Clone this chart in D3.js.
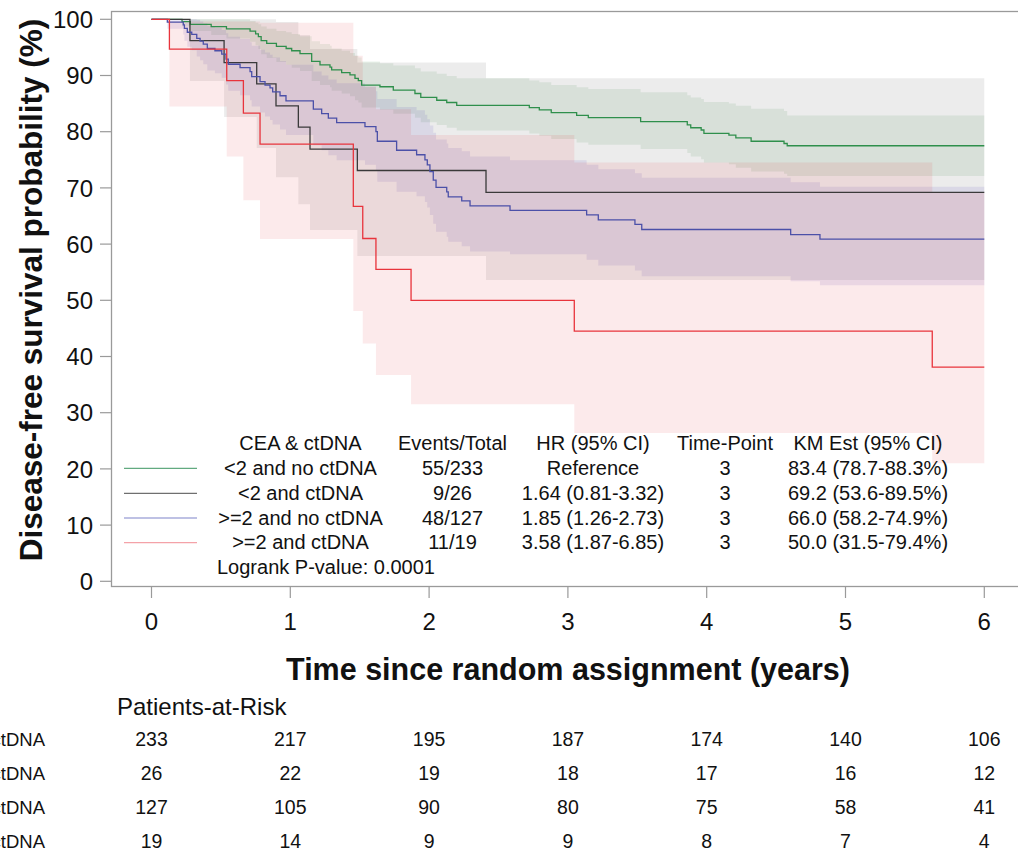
<!DOCTYPE html>
<html><head><meta charset="utf-8">
<script src="https://cdn.jsdelivr.net/npm/d3@7"></script>
<style>
html,body{margin:0;padding:0;background:#fff;overflow:hidden;}
svg{display:block;font-family:"Liberation Sans",Arial,Helvetica,sans-serif;}
</style></head>
<body>
<svg id="chart" width="1018" height="852"></svg>
<script>
// ---------- data ----------
const groups = ["<2 and no ctDNA", "<2 and ctDNA", ">=2 and no ctDNA", ">=2 and ctDNA"];
const xTicks = [0, 1, 2, 3, 4, 5, 6];
const yTicks = [0, 10, 20, 30, 40, 50, 60, 70, 80, 90, 100];
const maxTime = 6;

// <2 and no ctDNA : [time, KM %, lower %, upper %]
const greenSteps = [
  [0,100,100,100],[0.22,99.6,98.7,100],[0.28,99.1,97.9,100],[0.43,98.7,97.2,100],
  [0.54,98.3,96.6,100],[0.71,97.9,96.0,99.7],[0.75,97.4,95.4,99.4],[0.77,96.9,94.7,99.1],
  [0.79,96.2,93.8,98.7],[0.83,95.7,93.1,98.3],[0.90,95.2,92.4,97.9],[0.97,94.8,91.9,97.7],
  [1.01,94.4,91.4,97.4],[1.07,93.9,90.8,97.0],[1.154,92.5,89.0,96.1],[1.214,91.9,88.3,95.6],
  [1.286,91.5,87.9,95.3],[1.298,91.0,87.3,94.8],[1.37,90.5,86.8,94.4],[1.43,90.1,86.3,94.0],
  [1.466,89.5,85.6,93.5],[1.49,89.1,85.2,93.2],[1.514,88.3,84.3,92.5],[1.646,88.0,83.9,92.2],
  [1.742,87.4,83.2,91.8],[1.898,86.8,82.5,91.3],[1.94,86.1,81.7,90.7],[2.055,85.6,81.2,90.3],
  [2.127,85.2,80.7,89.9],[2.199,84.7,80.2,89.5],[2.722,84.3,79.7,89.1],[2.794,83.9,79.3,88.8],
  [2.88,83.4,78.7,88.3],[3.063,82.9,78.1,87.9],[3.147,82.5,77.7,87.6],[3.524,81.8,76.9,87.0],
  [3.86,81.2,76.2,86.5],[3.885,80.7,75.6,86.1],[3.96,80.3,75.1,85.8],[3.98,79.7,74.5,85.3],
  [4.16,79.4,74.2,85.0],[4.21,78.9,73.6,84.6],[4.32,78.3,72.9,84.1],[4.557,77.9,72.5,83.7],
  [4.58,77.5,72.1,82.9]
];
// <2 and ctDNA
const blackSteps = [
  [0,100,100,100],[0.277,96.2,89.0,100],[0.523,92.3,82.6,100],[0.758,88.5,77.1,100],
  [0.897,84.6,71.9,99.5],[1.058,80.8,67.1,97.2],[1.142,76.9,62.5,94.7],[1.483,73.1,57.9,92.3],
  [2.41,69.2,53.6,89.5]
];
// >=2 and no ctDNA
const blueSteps = [
  [0,100,100,100],[0.114,99.5,98.3,100],[0.229,99.0,97.3,100],[0.237,98.4,96.2,100],
  [0.258,97.7,95.1,100],[0.29,97.3,94.5,100],[0.326,96.6,93.4,99.9],[0.35,96.1,92.7,99.6],
  [0.373,95.6,92.0,99.3],[0.402,94.8,90.9,98.8],[0.457,94.4,90.4,98.5],[0.506,93.8,89.6,98.1],
  [0.537,92.9,88.4,97.5],[0.553,92.0,87.3,96.9],[0.638,91.4,86.5,96.5],[0.71,90.7,85.6,95.9],
  [0.722,89.8,84.5,95.3],[0.782,88.9,83.4,94.6],[0.818,88.3,82.7,94.1],[0.854,87.8,82.1,93.7],
  [0.873,87.1,81.3,93.2],[0.926,86.4,80.4,92.6],[0.969,85.5,79.4,91.9],[1.166,84.0,77.6,90.7],
  [1.226,83.2,76.7,90.0],[1.274,82.4,75.8,89.3],[1.334,81.6,74.9,88.6],[1.538,80.9,74.1,88.0],
  [1.617,80.0,73.0,87.2],[1.627,78.3,71.1,85.8],[1.766,76.7,69.3,84.4],[1.91,75.9,68.5,83.8],
  [1.97,75.0,67.5,83.0],[1.987,74.1,66.5,82.2],[2.006,72.9,65.2,81.1],[2.03,71.4,63.6,79.8],
  [2.05,70.1,62.2,78.6],[2.127,69.3,61.3,77.9],[2.138,68.4,60.4,77.1],[2.235,67.7,59.6,76.5],
  [2.295,66.8,58.7,75.6],[2.583,66.0,58.2,74.9],[3.135,65.2,57.2,74.1],[3.219,64.3,56.2,73.3],
  [3.483,63.5,55.3,72.6],[3.532,62.6,54.3,71.8],[4.605,61.7,53.4,71.0],[4.816,60.9,52.7,70.2]
];
// >=2 and ctDNA
const redSteps = [
  [0,100,100,100],[0.129,94.7,84.5,99.6],[0.542,89.1,75.6,99.6],[0.662,83.3,67.8,99.6],
  [0.782,77.8,60.9,99.4],[1.454,66.7,48.1,93.5],[1.522,61.0,42.3,88.0],[1.617,55.5,36.7,84.0],
  [1.87,50.0,31.5,79.4],[3.046,44.5,26.4,74.5],[5.625,38.1,21.0,69.1]
];

const legendEvents = ["55/233", "9/26", "48/127", "11/19"];
const legendHR = ["Reference", "1.64 (0.81-3.32)", "1.85 (1.26-2.73)", "3.58 (1.87-6.85)"];
const legendTimePoint = ["3", "3", "3", "3"];
const legendKM = ["83.4 (78.7-88.3%)", "69.2 (53.6-89.5%)", "66.0 (58.2-74.9%)", "50.0 (31.5-79.4%)"];
const logrankText = "Logrank P-value: 0.0001";

const riskTimes = [0, 1, 2, 3, 4, 5, 6];
const riskGreen = [233, 217, 195, 187, 174, 140, 106];
const riskBlack = [26, 22, 19, 18, 17, 16, 12];
const riskBlue = [127, 105, 90, 80, 75, 58, 41];
const riskRed = [19, 14, 9, 9, 8, 7, 4];

// ---------- styling ----------
const lineColors = ["#2f8f4c", "#3a3a3a", "#4b50a8", "#e8343c"];
const legendColors = ["#62aa80", "#6f6f6f", "#a9addb", "#f4a2a8"];
const bandFill = ["#3c9646", "#000000", "#5a46c0", "#e6323c"];
const bandOpacity = [0.11, 0.075, 0.12, 0.10];

const svg = d3.select("#chart");
const x = d3.scaleLinear().domain([0, 6]).range([151.5, 984.3]);
const y = d3.scaleLinear().domain([0, 100]).range([581.3, 19.3]);

const series = [greenSteps, blackSteps, blueSteps, redSteps].map(s => {
  const last = s[s.length - 1];
  return s.concat([[maxTime, last[1], last[2], last[3]]]);
});

// bands
const area = d3.area().curve(d3.curveStepAfter)
  .x(d => x(d[0])).y0(d => y(d[2])).y1(d => y(d[3]));
const gBands = svg.append("g");
series.forEach((s, i) => {
  gBands.append("path").attr("d", area(s))
    .attr("fill", bandFill[i]).attr("fill-opacity", bandOpacity[i]).attr("stroke", "none");
});

// frame
const frameColor = "#9a9a9a";
svg.append("rect").attr("x", 111.5).attr("y", 11.5).attr("width", 1000).attr("height", 575)
  .attr("fill", "none").attr("stroke", frameColor).attr("stroke-width", 1.3);

// y axis ticks
const gy = svg.append("g");
gy.selectAll("line").data(yTicks).join("line")
  .attr("x1", 100).attr("x2", 111.5)
  .attr("y1", d => y(d)).attr("y2", d => y(d))
  .attr("stroke", frameColor).attr("stroke-width", 1.2);
gy.selectAll("text").data(yTicks).join("text")
  .attr("x", 93).attr("y", d => y(d)).attr("dy", "0.36em")
  .attr("text-anchor", "end").attr("font-size", 24).attr("fill", "#111")
  .text(d => d);

// x axis ticks
const gx = svg.append("g");
gx.selectAll("line").data(xTicks).join("line")
  .attr("x1", d => x(d)).attr("x2", d => x(d))
  .attr("y1", 586.5).attr("y2", 598)
  .attr("stroke", frameColor).attr("stroke-width", 1.2);
gx.selectAll("text").data(xTicks).join("text")
  .attr("x", d => x(d)).attr("y", 630)
  .attr("text-anchor", "middle").attr("font-size", 24).attr("fill", "#111")
  .text(d => d);

// curves
const line = d3.line().curve(d3.curveStepAfter).x(d => x(d[0])).y(d => y(d[1]));
series.forEach((s, i) => {
  svg.append("path").attr("d", line(s)).attr("fill", "none")
    .attr("stroke", lineColors[i]).attr("stroke-width", 1.3);
});

// axis titles
svg.append("text").attr("x", 568).attr("y", 680).attr("text-anchor", "middle")
  .attr("font-size", 30.5).attr("font-weight", "bold").attr("fill", "#111")
  .text("Time since random assignment (years)");
svg.append("text").attr("transform", "translate(42,290) rotate(-90)")
  .attr("text-anchor", "middle").attr("font-size", 31.5).attr("font-weight", "bold").attr("fill", "#111")
  .text("Disease-free survival probability (%)");

// legend table
const lg = svg.append("g").attr("font-size", 20).attr("fill", "#111");
const colX = [300.5, 452.5, 593, 725, 868];
const headers = ["CEA & ctDNA", "Events/Total", "HR (95% CI)", "Time-Point", "KM Est (95% CI)"];
headers.forEach((h, j) => {
  lg.append("text").attr("x", colX[j]).attr("y", 450).attr("text-anchor", "middle").text(h);
});
const rowY = [475, 500, 524.7, 549.3];
groups.forEach((g, i) => {
  const cols = [g, legendEvents[i], legendHR[i], legendTimePoint[i], legendKM[i]];
  cols.forEach((c, j) => {
    lg.append("text").attr("x", colX[j]).attr("y", rowY[i]).attr("text-anchor", "middle").text(c);
  });
  lg.append("line").attr("x1", 124).attr("x2", 197)
    .attr("y1", rowY[i] - 6.7).attr("y2", rowY[i] - 6.7)
    .attr("stroke", legendColors[i]).attr("stroke-width", 1.3);
});
lg.append("text").attr("x", 217).attr("y", 574).text(logrankText);

// patients at risk
svg.append("text").attr("x", 117).attr("y", 715).attr("font-size", 24).attr("fill", "#111")
  .text("Patients-at-Risk");
const riskRows = [riskGreen, riskBlack, riskBlue, riskRed];
const riskY = [746, 780, 814, 848];
const rg = svg.append("g").attr("fill", "#111");
riskRows.forEach((row, i) => {
  rg.append("text").attr("x", 45).attr("y", riskY[i]).attr("text-anchor", "end")
    .attr("font-size", 18.5).text(groups[i]);
  rg.selectAll(null).data(row).join("text")
    .attr("x", (d, k) => x(riskTimes[k])).attr("y", riskY[i])
    .attr("text-anchor", "middle").attr("font-size", 19.5).text(d => d);
});
</script>
</body></html>
